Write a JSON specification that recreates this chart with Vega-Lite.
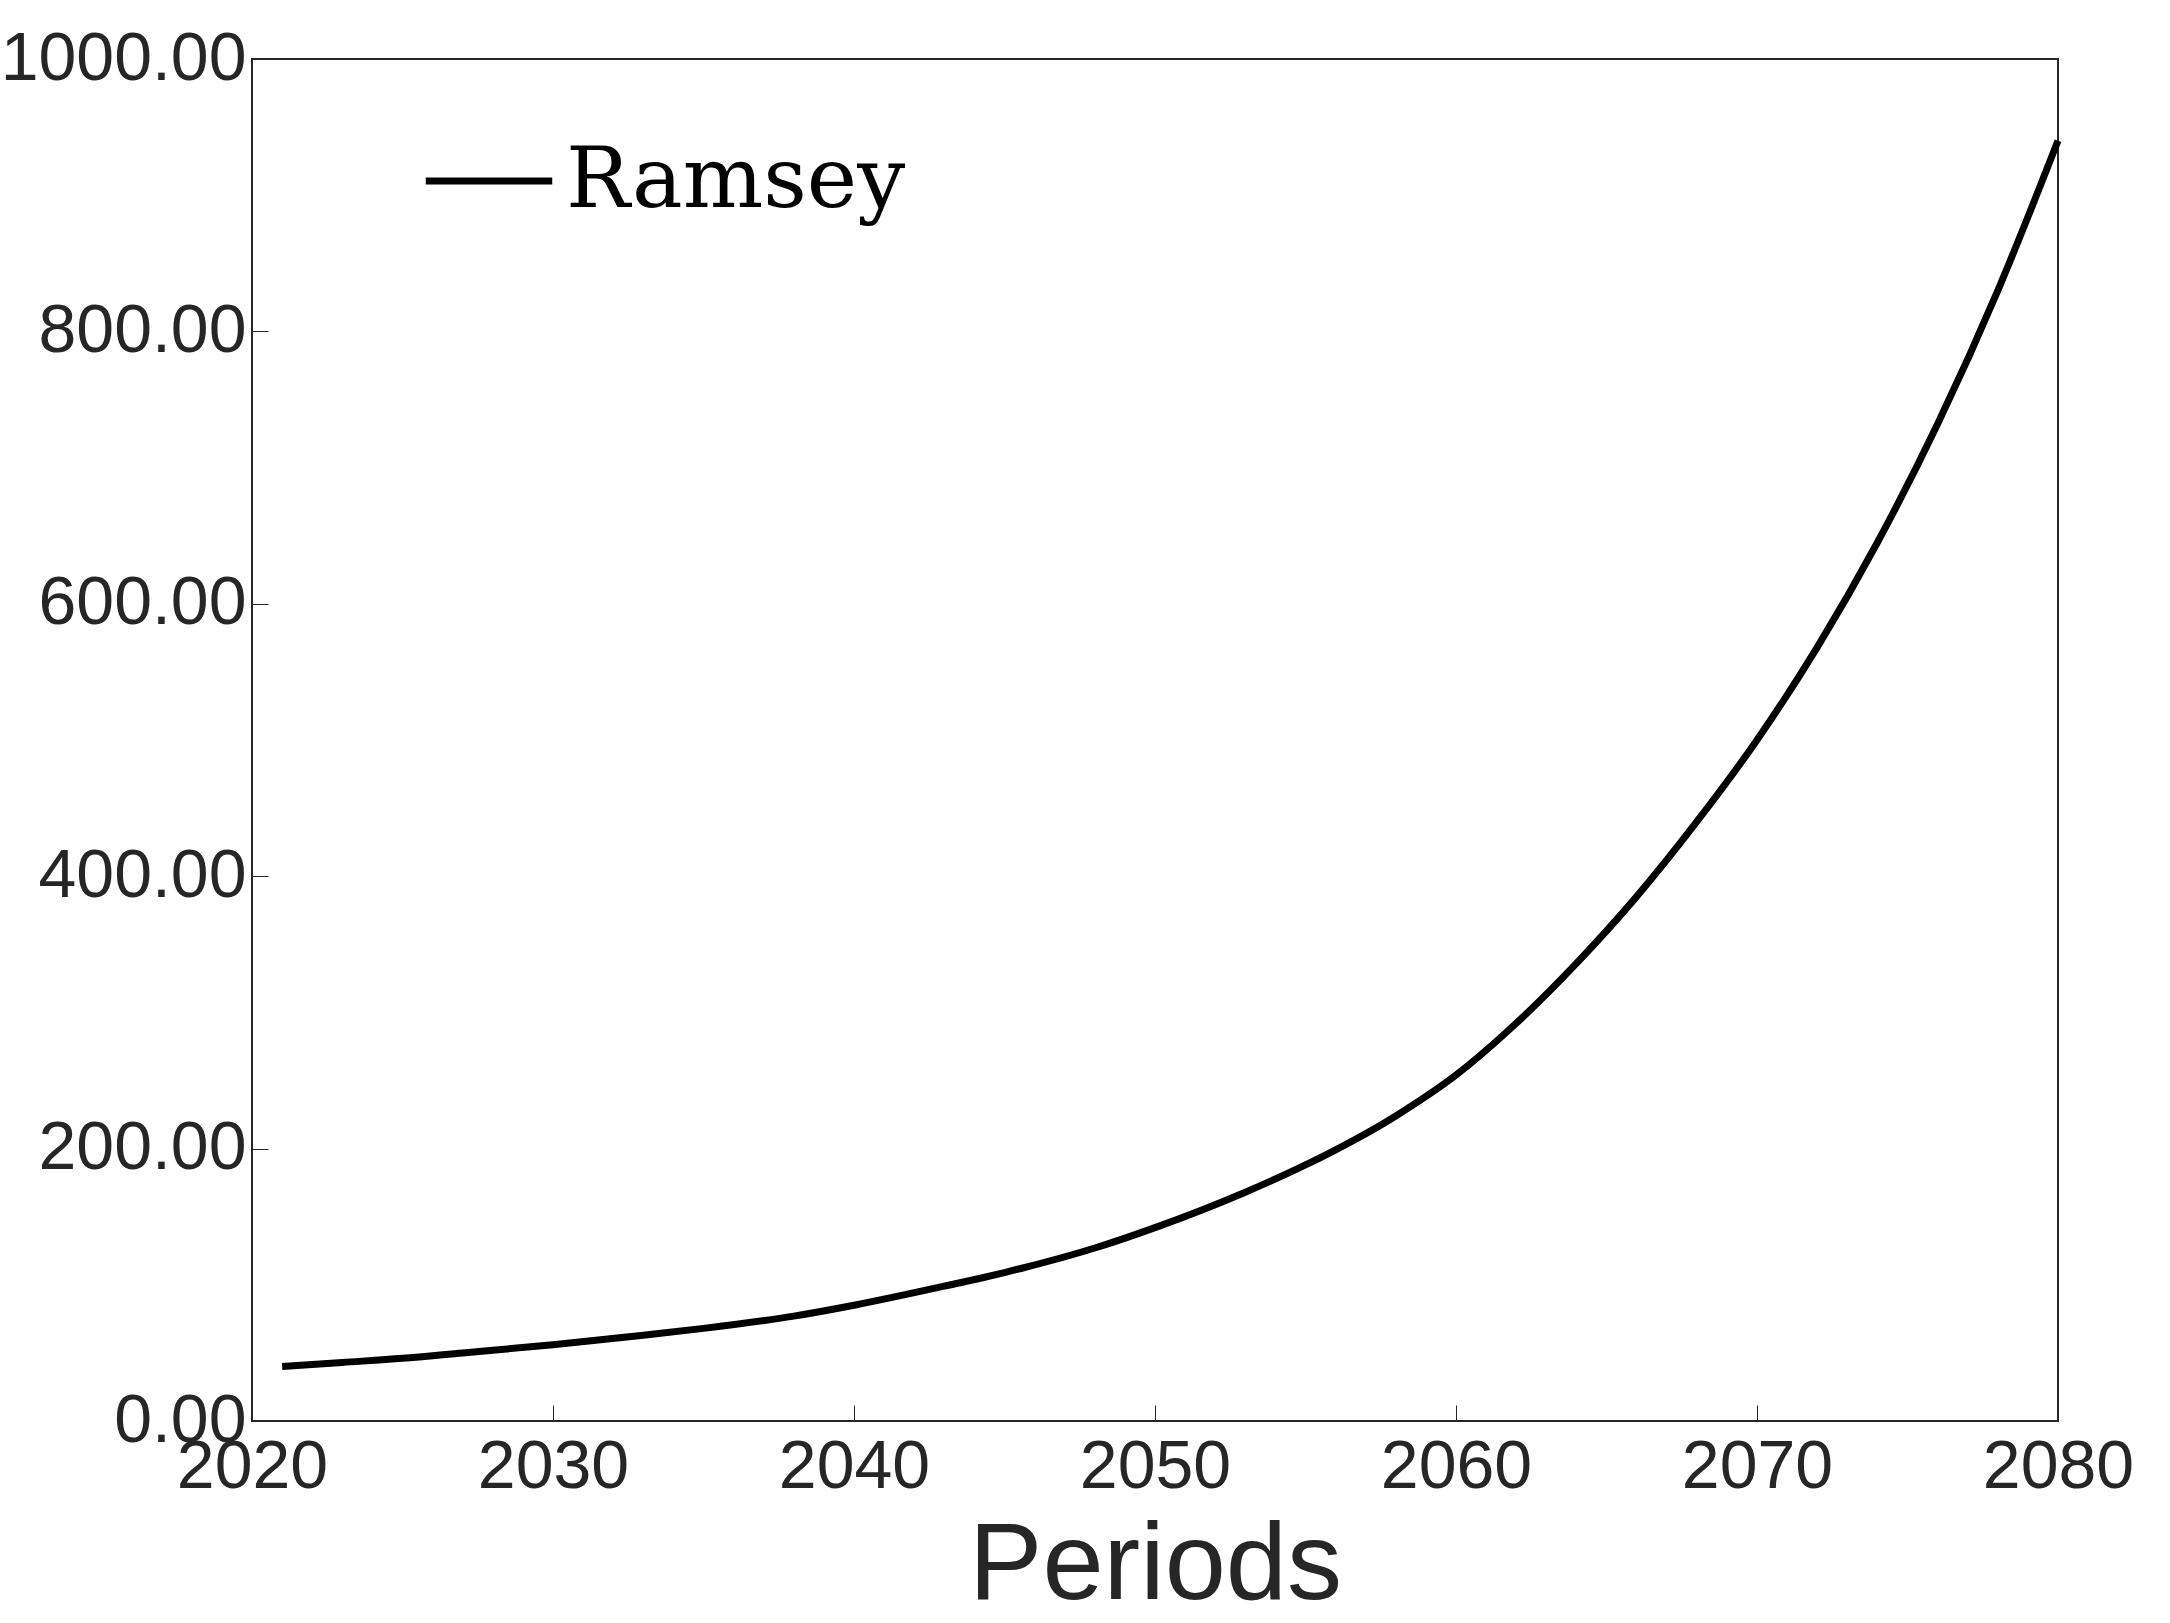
{
"$schema":"https://vega.github.io/schema/vega-lite/v6.json",
"width":1806,"height":1362,
"padding":{"left":0,"top":25,"right":75,"bottom":5},
"background":"white",
"config":{"view":{"stroke":"#262626","strokeWidth":2},"font":"Liberation Sans"},
"data":{"values":[
{"year":2021,"v":40,"s":"Ramsey"},{"year":2023,"v":43,"s":"Ramsey"},{"year":2025,"v":46,"s":"Ramsey"},{"year":2027,"v":50,"s":"Ramsey"},{"year":2030,"v":56,"s":"Ramsey"},{"year":2033,"v":63,"s":"Ramsey"},{"year":2035,"v":68,"s":"Ramsey"},{"year":2038,"v":77,"s":"Ramsey"},{"year":2040,"v":85,"s":"Ramsey"},{"year":2043,"v":99,"s":"Ramsey"},{"year":2045,"v":109,"s":"Ramsey"},{"year":2048,"v":127,"s":"Ramsey"},{"year":2050,"v":142,"s":"Ramsey"},{"year":2053,"v":168,"s":"Ramsey"},{"year":2055,"v":188,"s":"Ramsey"},{"year":2058,"v":224,"s":"Ramsey"},{"year":2060,"v":254,"s":"Ramsey"},{"year":2062,"v":292,"s":"Ramsey"},{"year":2064,"v":336,"s":"Ramsey"},{"year":2066,"v":385,"s":"Ramsey"},{"year":2068,"v":440,"s":"Ramsey"},{"year":2070,"v":500,"s":"Ramsey"},{"year":2072,"v":568,"s":"Ramsey"},{"year":2074,"v":645,"s":"Ramsey"},{"year":2076,"v":732,"s":"Ramsey"},{"year":2078,"v":830,"s":"Ramsey"},{"year":2080,"v":940,"s":"Ramsey"}
]},
"mark":{"type":"line","strokeWidth":7,"interpolate":"monotone"},
"encoding":{
"x":{"field":"year","type":"quantitative","scale":{"domain":[2020,2080],"nice":false,"zero":false},
"axis":{"title":"Periods","titleFontSize":110,"titleFontWeight":"normal","titleColor":"#262626","titlePadding":10,"labelFontSize":68,"labelColor":"#262626","values":[2020,2030,2040,2050,2060,2070,2080],"format":"d","grid":false,"tickSize":-16,"tickColor":"#262626","domain":false,"labelPadding":28,"labelFlush":false,"labelLimit":0,"labelOverlap":false}},
"y":{"field":"v","type":"quantitative","scale":{"domain":[0,1000],"nice":false},
"axis":{"title":null,"labelFontSize":68,"labelColor":"#262626","format":".2f","values":[0,200,400,600,800,1000],"grid":false,"tickSize":-16,"tickColor":"#262626","domain":false,"labelPadding":22,"labelLimit":0}},
"color":{"field":"s","type":"nominal","scale":{"range":["black"]},
"legend":{"title":null,"orient":"none","legendX":170,"legendY":55,"symbolType":"stroke","symbolStrokeWidth":7,"symbolSize":16000,"labelFont":"DejaVu Serif","labelFontSize":85,"labelColor":"black","labelOffset":10,"labelLimit":0}}
}
}
